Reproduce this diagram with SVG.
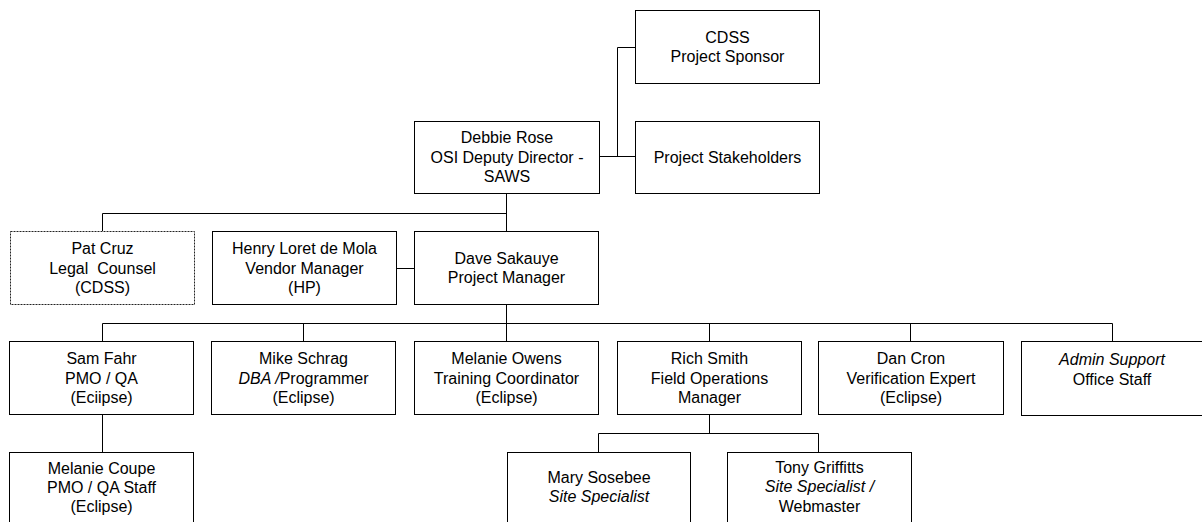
<svg xmlns="http://www.w3.org/2000/svg" width="1202" height="522" viewBox="0 0 1202 522">
<style>
.box{fill:#fff;stroke:#000;stroke-width:1}
.dot{fill:#fff;stroke:#222;stroke-width:1;stroke-dasharray:2 1}
.t{font-family:"Liberation Sans",Arial,sans-serif;font-size:16px;fill:#000;text-anchor:middle}
.i{font-style:italic}
.c{fill:none;stroke:#000;stroke-width:1}
</style>
<rect width="1202" height="522" fill="#fff"/>
<g id="connectors">
<path class="c" d="M599 156.5H635M617.5 156.5V47.5H635"/>
<path class="c" d="M506.5 193V231M102.5 213.5H506.5M102.5 213.5V231"/>
<path class="c" d="M396 268.5H414"/>
<path class="c" d="M506.5 304V341M102.5 323.5H1112.5M102.5 323.5V341M303.5 323.5V341M709.5 323.5V341M910.5 323.5V341M1112.5 323.5V341"/>
<path class="c" d="M102.5 415V452"/>
<path class="c" d="M709.5 415V433.5M598.5 433.5H818.5M598.5 433.5V452M818.5 433.5V452"/>
</g>
<g id="cdss">
<rect class="box" x="635.5" y="10.5" width="184" height="73"/>
<text class="t" x="727.5" y="42.5">CDSS</text>
<text class="t" x="727.5" y="62">Project Sponsor</text>
</g>
<g id="stakeholders">
<rect class="box" x="635.5" y="121.5" width="184" height="72"/>
<text class="t" x="727.5" y="163">Project Stakeholders</text>
</g>
<g id="debbie">
<rect class="box" x="414.5" y="121.5" width="185" height="72"/>
<text class="t" x="507" y="143">Debbie Rose</text>
<text class="t" x="507" y="162.5">OSI Deputy Director -</text>
<text class="t" x="507" y="182">SAWS</text>
</g>
<g id="pat">
<rect class="dot" x="10.5" y="231.5" width="184" height="73"/>
<text class="t" x="102.5" y="254">Pat Cruz</text>
<text class="t" x="102.5" y="273.5" style="white-space:pre">Legal  Counsel</text>
<text class="t" x="102.5" y="293">(CDSS)</text>
</g>
<g id="henry">
<rect class="box" x="212.5" y="231.5" width="184" height="73"/>
<text class="t" x="304.5" y="254">Henry Loret de Mola</text>
<text class="t" x="304.5" y="273.5">Vendor Manager</text>
<text class="t" x="304.5" y="293">(HP)</text>
</g>
<g id="dave">
<rect class="box" x="414.5" y="231.5" width="184" height="73"/>
<text class="t" x="506.5" y="263.5">Dave Sakauye</text>
<text class="t" x="506.5" y="283">Project Manager</text>
</g>
<g id="sam">
<rect class="box" x="9.5" y="341.5" width="184" height="73"/>
<text class="t" x="101.5" y="364">Sam Fahr</text>
<text class="t" x="101.5" y="383.5">PMO / QA</text>
<text class="t" x="101.5" y="403">(Eciipse)</text>
</g>
<g id="mike">
<rect class="box" x="211.5" y="341.5" width="184" height="73"/>
<text class="t" x="303.5" y="364">Mike Schrag</text>
<text class="t" x="303.5" y="383.5"><tspan class="i">DBA /</tspan>Programmer</text>
<text class="t" x="303.5" y="403">(Eclipse)</text>
</g>
<g id="owens">
<rect class="box" x="414.5" y="341.5" width="184" height="73"/>
<text class="t" x="506.5" y="364">Melanie Owens</text>
<text class="t" x="506.5" y="383.5">Training Coordinator</text>
<text class="t" x="506.5" y="403">(Eclipse)</text>
</g>
<g id="rich">
<rect class="box" x="617.5" y="341.5" width="184" height="73"/>
<text class="t" x="709.5" y="364">Rich Smith</text>
<text class="t" x="709.5" y="383.5">Field Operations</text>
<text class="t" x="709.5" y="403">Manager</text>
</g>
<g id="dan">
<rect class="box" x="818.5" y="341.5" width="185" height="73"/>
<text class="t" x="911" y="364">Dan Cron</text>
<text class="t" x="911" y="383.5">Verification Expert</text>
<text class="t" x="911" y="403">(Eclipse)</text>
</g>
<g id="admin">
<rect class="box" x="1021.5" y="341.5" width="181" height="74"/>
<text class="t i" x="1112" y="365">Admin Support</text>
<text class="t" x="1112" y="384.5">Office Staff</text>
</g>
<g id="coupe">
<rect class="box" x="9.5" y="452.5" width="184" height="73"/>
<text class="t" x="101.5" y="474">Melanie Coupe</text>
<text class="t" x="101.5" y="493">PMO / QA Staff</text>
<text class="t" x="101.5" y="512">(Eclipse)</text>
</g>
<g id="mary">
<rect class="box" x="507.5" y="452.5" width="183" height="73"/>
<text class="t" x="599" y="483">Mary Sosebee</text>
<text class="t i" x="599" y="502">Site Specialist</text>
</g>
<g id="tony">
<rect class="box" x="727.5" y="452.5" width="184" height="73"/>
<text class="t" x="819.5" y="473">Tony Griffitts</text>
<text class="t i" x="819.5" y="492">Site Specialist /</text>
<text class="t" x="819.5" y="512">Webmaster</text>
</g>
</svg>
